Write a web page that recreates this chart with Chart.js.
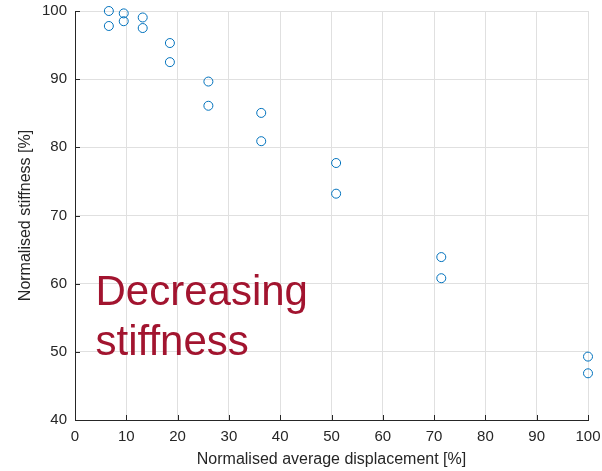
<!DOCTYPE html>
<html>
<head>
<meta charset="utf-8">
<script src="https://cdn.jsdelivr.net/npm/chart.js@4/dist/chart.umd.min.js"></script>
<style>
  html, body { margin: 0; padding: 0; background: #fff; }
  #wrap { width: 602px; height: 471px; }
</style>
</head>
<body>
<div id="wrap"><canvas id="chart"></canvas></div>
<script>
// values
const dispPct = [6.6, 6.6, 9.5, 9.5, 13.2, 13.2, 18.5, 18.5, 26.0, 26.0, 36.3, 36.3, 50.9, 50.9, 71.4, 71.4, 100, 100];
const stiffPct = [100, 97.8, 99.65, 98.5, 99.05, 97.5, 95.3, 92.5, 89.65, 86.1, 85.05, 80.9, 77.7, 73.2, 63.9, 60.8, 49.3, 46.85];
const xTicks = [0, 10, 20, 30, 40, 50, 60, 70, 80, 90, 100];
const yTicks = [40, 50, 60, 70, 80, 90, 100];
const note = { lines: ['Decreasing', 'stiffness'], x: 4.0, y: [56.8, 49.6] };

const FONT = '"Liberation Sans", Arial, sans-serif';
const AXIS = '#262626';

// MATLAB-style inward tick marks
const innerTicks = {
  id: 'innerTicks',
  afterDraw(chart) {
    const { ctx, scales: { x, y } } = chart;
    ctx.save();
    ctx.strokeStyle = AXIS;
    ctx.lineWidth = 1;
    ctx.beginPath();
    xTicks.forEach(v => {
      const px = Math.round(x.getPixelForValue(v)) + 0.5;
      ctx.moveTo(px, y.bottom);
      ctx.lineTo(px, y.bottom - 5);
    });
    yTicks.forEach(v => {
      const py = Math.round(y.getPixelForValue(v)) + 0.5;
      ctx.moveTo(x.left, py);
      ctx.lineTo(x.left + 5, py);
    });
    ctx.stroke();
    ctx.restore();
  }
};

const noteText = {
  id: 'noteText',
  afterDraw(chart) {
    const { ctx, scales: { x, y } } = chart;
    ctx.save();
    ctx.fillStyle = '#A2142F';
    ctx.font = '42px ' + FONT;
    ctx.textBaseline = 'alphabetic';
    note.lines.forEach((t, i) => {
      ctx.fillText(t, x.getPixelForValue(note.x), y.getPixelForValue(note.y[i]));
    });
    ctx.restore();
  }
};

new Chart(document.getElementById('chart'), {
  type: 'scatter',
  data: {
    datasets: [{
      data: dispPct.map((v, i) => ({ x: v, y: stiffPct[i] })),
      pointStyle: 'circle',
      pointRadius: 4.5,
      pointHoverRadius: 4.5,
      borderWidth: 1,
      borderColor: '#0072BD',
      backgroundColor: 'rgba(0,0,0,0)',
      clip: false,
    }]
  },
  options: {
    responsive: true,
    maintainAspectRatio: false,
    animation: false,
    layout: { padding: { top: 11, right: 14, left: 0, bottom: 0 } },
    plugins: { legend: { display: false }, tooltip: { enabled: false } },
    scales: {
      x: {
        type: 'linear',
        min: 0, max: 100,
        afterBuildTicks: s => { s.ticks = xTicks.map(v => ({ value: v })); },
        afterFit: s => { s.height = 51; s.paddingLeft = 0; s.paddingRight = 0; },
        grid: { color: '#e0e0e0', drawTicks: false },
        border: { color: AXIS, width: 1 },
        ticks: { color: AXIS, padding: 8, font: { family: FONT, size: 15 }, maxRotation: 0 },
        title: { display: true, text: 'Normalised average displacement [%]', color: AXIS,
                 font: { family: FONT, size: 16 }, padding: { top: 0, bottom: 2 } }
      },
      y: {
        type: 'linear',
        min: 40, max: 100,
        afterBuildTicks: s => { s.ticks = yTicks.map(v => ({ value: v })); },
        afterFit: s => { s.width = 75; s.paddingTop = 0; s.paddingBottom = 0; },
        grid: { color: '#e0e0e0', drawTicks: false },
        border: { color: AXIS, width: 1 },
        ticks: { color: AXIS, padding: 8, font: { family: FONT, size: 15 } },
        title: { display: true, text: 'Normalised stiffness [%]', color: AXIS,
                 font: { family: FONT, size: 16 }, padding: { top: 16, bottom: 0 } }
      }
    }
  },
  plugins: [innerTicks, noteText]
});
</script>
</body>
</html>
